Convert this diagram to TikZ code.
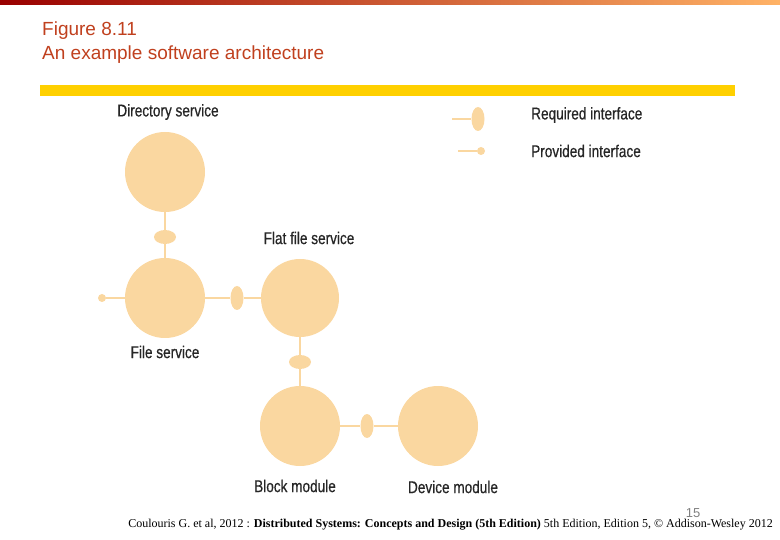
\documentclass[tikz,border=0pt]{standalone}
\usepackage{fontspec}
\setmainfont{Liberation Sans}
\newfontfamily\timesfont{Liberation Serif}
\usetikzlibrary{shapes.geometric, positioning}
\definecolor{compfill}{HTML}{FAD7A0}
\definecolor{titlered}{HTML}{C0401E}
\definecolor{baryellow}{HTML}{FFD000}

\begin{document}
\begin{tikzpicture}[x=1pt, y=-1pt,
    comp/.style={circle, fill=compfill, minimum size=#1pt, inner sep=0pt},
    req/.style={ellipse, fill=compfill, minimum width=#1, inner sep=0pt},
    prov/.style={circle, fill=compfill, minimum size=8pt, inner sep=0pt},
    wire/.style={draw=compfill, line width=2pt},
    lbl/.style={text=black!85, font=\fontsize{17}{19}\selectfont\addfontfeature{FakeStretch=0.8, FakeBold=0.6}}
]
\useasboundingbox (0,0) rectangle (780,540);

% Top bar and title
\shade[left color=red!60!black, right color=orange!60] (0,0) rectangle (780,5);
\node[anchor=north west, align=left, text=titlered, font=\fontsize{19}{24}\selectfont, inner sep=0pt] (title) at (42,22) {Figure 8.11\\An example software architecture};
\fill[baryellow] (40,85) rectangle (735,96);

% Components
\node[comp=80] (dir) at (165,172) {};
\node[comp=80] (file) at (165,298) {};
\node[comp=78] (flat) at (300,298) {};
\node[comp=80] (block) at (300,426) {};
\node[comp=80] (device) at (438,426) {};

% Interfaces
\node[req=22pt, minimum height=14pt] (r1) at (165,237) {};
\node[req=13pt, minimum height=24pt] (r2) at (237,298) {};
\node[req=22pt, minimum height=14pt] (r3) at (300,362) {};
\node[req=13pt, minimum height=24pt] (r4) at (367,426) {};
\node[prov] (p1) at (102,298) {};

\draw[wire] (dir) -- (r1) -- (file);
\draw[wire] (file) -- (r2) -- (flat);
\draw[wire] (flat) -- (r3) -- (block);
\draw[wire] (block) -- (r4) -- (device);
\draw[wire] (p1) -- (file);

% Legend
\coordinate (lr) at (452,119);
\coordinate (lp) at (458,151);
\node[req=13pt, minimum height=24pt] (legreq) at (478,119) {};
\node[prov] (legprov) at (481,151) {};
\draw[wire] (lr) -- (legreq);
\draw[wire] (lp) -- (legprov);

% Labels
\node[lbl] (ldir) at (168,112) {Directory service};
\node[lbl] (lflat) at (309,238) {Flat file service};
\node[lbl] (lfile) at (165,352) {File service};
\node[lbl] (lblock) at (295,486) {Block module};
\node[lbl] (ldev) at (453,487) {Device module};
\node[lbl, anchor=west, inner sep=0pt] (lreq) at (531,115) {Required interface};
\node[lbl, anchor=west, inner sep=0pt] (lprov) at (531,151) {Provided interface};

% Footer
\node[text=gray, font=\fontsize{13}{15}\selectfont] (page) at (693,513) {15};
\node[font=\timesfont\fontsize{12}{14}\selectfont, anchor=east, inner sep=0pt] (cite) at (773,525) {Coulouris G. et al, 2012 : \textbf{Distributed Systems: Concepts and Design (5th Edition)} 5th Edition, Edition 5, © Addison-Wesley 2012};
\end{tikzpicture}
\end{document}
